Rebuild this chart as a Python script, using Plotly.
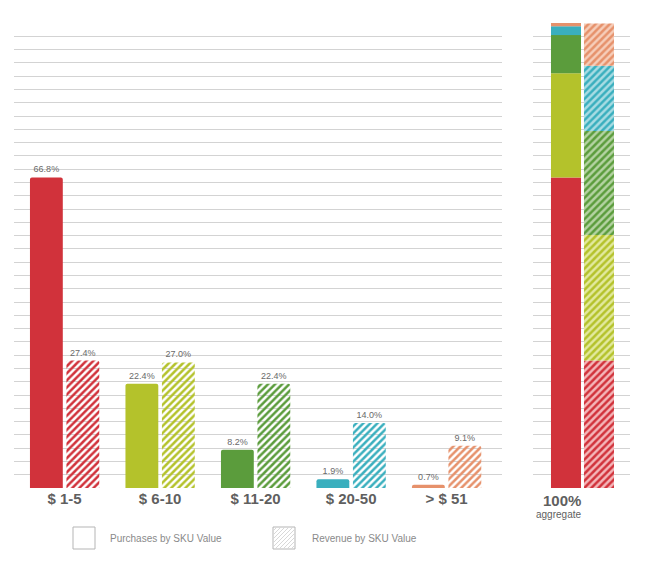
import plotly.graph_objects as go

# ------------------------------------------------------------
# data
# ------------------------------------------------------------
categories = ["$ 1-5", "$ 6-10", "$ 11-20", "$ 20-50", "> $ 51"]
purchases = [66.8, 22.4, 8.2, 1.9, 0.7]      # % of purchases by SKU value
revenue = [27.4, 27.0, 22.4, 14.0, 9.1]      # % of revenue by SKU value
colors = ["#d1323b", "#b4c22b", "#5b9c3c", "#3aafbe", "#e6916b"]
tints = ["#f4b6b9", "#e2e99e", "#b4d3a2", "#a8dce3", "#f6cdb9"]
agg_labels = ["Purchases", "Revenue"]

# the page body adds an 8px margin, so the figure is drawn 8px smaller
OFF = 8
W, H = 646 - OFF, 572 - OFF
PLOT_TOP, PLOT_BOT = 23, 488          # reference pixel rows of 100% / 0%
GRID = "#d3d3d3"
TXT = "#6a6a6a"
LBL = "#5f5f5f"


def px_x(v):
    return (v - OFF) / W


def px_y(v):
    return (PLOT_BOT - v) / (PLOT_BOT - PLOT_TOP)


fig = go.Figure()

# ------------------------------------------------------------
# left panel: grouped bars per price band
# ------------------------------------------------------------
fig.add_trace(go.Bar(
    x=categories, y=purchases, name="Purchases by SKU Value",
    marker=dict(color=colors, line=dict(width=0), cornerradius=2),
    text=[f"{v:.1f}%" for v in purchases], textposition="outside",
    textfont=dict(size=9, color=TXT), cliponaxis=False,
    xaxis="x", yaxis="y",
))
fig.add_trace(go.Bar(
    x=categories, y=revenue, name="Revenue by SKU Value",
    marker=dict(color=colors, line=dict(width=0), cornerradius=2,
                pattern=dict(shape="/", fillmode="replace", size=5,
                             solidity=0.5, fgcolor=colors, bgcolor=tints)),
    text=[f"{v:.1f}%" for v in revenue], textposition="outside",
    textfont=dict(size=9, color=TXT), cliponaxis=False,
    xaxis="x", yaxis="y",
))

# ------------------------------------------------------------
# right panel: 100% aggregate stacks (base = running total)
# ------------------------------------------------------------
cum_p, cum_r = 0.0, 0.0
for p, r, c, t in zip(purchases, revenue, colors, tints):
    fig.add_trace(go.Bar(
        x=agg_labels, y=[p, r], base=[cum_p, cum_r],
        width=0.91, offset=-0.455,
        marker=dict(color=c, line=dict(width=0),
                    pattern=dict(shape=["", "/"], fillmode="replace", size=5,
                                 solidity=0.5, fgcolor=c, bgcolor=[c, t])),
        xaxis="x2", yaxis="y2", showlegend=False, hoverinfo="skip",
    ))
    cum_p += p
    cum_r += r

grid_step = 100 / 35
yax = dict(range=[0, 100], dtick=grid_step, tick0=0, showticklabels=False,
           showgrid=True, gridcolor=GRID, gridwidth=1, zeroline=False,
           ticks="", showline=False, fixedrange=True)

fig.update_layout(
    width=W, height=H,
    margin=dict(l=0, r=0, t=PLOT_TOP - OFF, b=H - (PLOT_BOT - OFF)),
    paper_bgcolor="white", plot_bgcolor="white",
    font=dict(family="Liberation Sans, Arial, sans-serif", color=TXT),
    barmode="group", bargap=0.236, bargroupgap=0.1,
    showlegend=False,
    xaxis=dict(domain=[px_x(14), px_x(502)], range=[-0.53, 4.58],
               showgrid=False, zeroline=False, ticks="", showline=False,
               tickfont=dict(size=15, color=LBL),
               tickprefix="<b>", ticksuffix="</b>"),
    yaxis=dict(**yax),
    xaxis2=dict(domain=[px_x(533), px_x(630)], range=[-1.0, 1.94],
                showgrid=False, zeroline=False, ticks="", showline=False,
                showticklabels=False),
    yaxis2=dict(**yax, anchor="x2"),
)

# aggregate label under right panel
fig.add_annotation(xref="paper", yref="paper", x=px_x(583), y=px_y(500),
                   yanchor="middle", showarrow=False,
                   text="<b>100%</b>", font=dict(size=15, color=LBL))
fig.add_annotation(xref="paper", yref="paper", x=px_x(583), y=px_y(514),
                   yanchor="middle", showarrow=False,
                   text="aggregate", font=dict(size=10, color=LBL))

# ------------------------------------------------------------
# custom legend boxes
# ------------------------------------------------------------
for bx in (73, 273):
    fig.add_shape(type="rect", xref="paper", yref="paper",
                  x0=px_x(bx), x1=px_x(bx + 22), y0=px_y(549), y1=px_y(527),
                  line=dict(color="#b5b5b5", width=1), fillcolor="white")
for k in range(-18, 22, 4):
    xa, ya = 273 + k, 549
    xb, yb = xa + 22, 527
    # clip the diagonal into the box
    if xa < 273:
        ya -= 273 - xa
        xa = 273
    if xb > 295:
        yb += xb - 295
        xb = 295
    if xa < xb:
        fig.add_shape(type="line", xref="paper", yref="paper",
                      x0=px_x(xa), x1=px_x(xb), y0=px_y(ya), y1=px_y(yb),
                      line=dict(color="#d8d8d8", width=1))

fig.add_annotation(xref="paper", yref="paper", x=px_x(108), y=px_y(538),
                   xanchor="left", yanchor="middle", showarrow=False,
                   text="Purchases by SKU Value", font=dict(size=10, color="#8a8a8a"))
fig.add_annotation(xref="paper", yref="paper", x=px_x(310), y=px_y(538),
                   xanchor="left", yanchor="middle", showarrow=False,
                   text="Revenue by SKU Value", font=dict(size=10, color="#8a8a8a"))

fig.write_html("out.html")
